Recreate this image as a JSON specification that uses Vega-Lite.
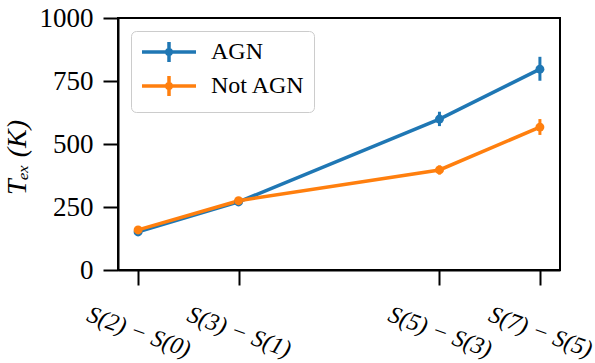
{
  "$schema": "https://vega.github.io/schema/vega-lite/v6.json",
  "autosize": {"type": "none"},
  "padding": {"left": 118, "top": 18, "right": 35, "bottom": 93},
  "width": 442,
  "height": 252,
  "background": "white",
  "config": {
    "font": "Liberation Serif",
    "view": {"stroke": "black", "strokeWidth": 2},
    "axis": {"grid": false, "domainColor": "black", "domainWidth": 2, "tickColor": "black", "tickWidth": 2, "tickSize": 15, "labelColor": "black", "labelFont": "Liberation Serif", "titleColor": "black", "titleFont": "Liberation Serif"}
  },
  "data": {
    "values": [
      {"group": "AGN", "pos": 0, "transition": "S(2) − S(0)", "T": 151, "lo": 143, "hi": 159},
      {"group": "AGN", "pos": 1, "transition": "S(3) − S(1)", "T": 270, "lo": 262, "hi": 278},
      {"group": "AGN", "pos": 3, "transition": "S(5) − S(3)", "T": 599, "lo": 571, "hi": 628},
      {"group": "AGN", "pos": 4, "transition": "S(7) − S(5)", "T": 797, "lo": 751, "hi": 846},
      {"group": "Not AGN", "pos": 0, "transition": "S(2) − S(0)", "T": 159, "lo": 151, "hi": 167},
      {"group": "Not AGN", "pos": 1, "transition": "S(3) − S(1)", "T": 275, "lo": 267, "hi": 283},
      {"group": "Not AGN", "pos": 3, "transition": "S(5) − S(3)", "T": 397, "lo": 379, "hi": 415},
      {"group": "Not AGN", "pos": 4, "transition": "S(7) − S(5)", "T": 567, "lo": 536, "hi": 599}
    ]
  },
  "encoding": {
    "x": {
      "field": "pos", "type": "quantitative",
      "scale": {"domain": [-0.2, 4.2], "nice": false, "zero": false},
      "axis": {
        "values": [0, 1, 3, 4],
        "title": null,
        "labelExpr": "datum.value == 0 ? 'S(2) − S(0)' : datum.value == 1 ? 'S(3) − S(1)' : datum.value == 3 ? 'S(5) − S(3)' : 'S(7) − S(5)'",
        "labelAngle": 20,
        "labelAlign": "center",
        "labelBaseline": "middle",
        "labelPadding": 47,
        "labelFontSize": 24,
        "labelFontStyle": "italic",
        "labelOverlap": false,
        "labelBound": false,
        "labelFlush": false
      }
    }
  },
  "layer": [
    {
      "mark": {"type": "line", "strokeWidth": 3.5},
      "encoding": {
        "y": {
          "field": "T", "type": "quantitative",
          "scale": {"domain": [0, 1000], "nice": false},
          "axis": {
            "values": [0, 250, 500, 750, 1000],
            "format": "d",
            "title": "Tₑₓ (K)",
            "titleFontSize": 28,
            "titleFontWeight": "normal",
            "titleFontStyle": "italic",
            "titleAngle": -90,
            "titleX": -101,
            "titleY": 139,
            "titleBaseline": "middle",
            "titleAlign": "center",
            "labelFontSize": 27,
            "labelPadding": 10
          }
        },
        "stroke": {
          "field": "group", "type": "nominal",
          "scale": {"domain": ["AGN", "Not AGN"], "range": ["#1f77b4", "#ff7f0e"]},
          "legend": {
            "title": null,
            "orient": "none",
            "legendX": 13,
            "legendY": 13,
            "padding": 9,
            "symbolType": "M-2.7,0H2.7M0,-1V1M-0.22,0A0.22,0.22 0 1,0 0.22,0A0.22,0.22 0 1,0 -0.22,0",
            "symbolSize": 400,
            "symbolStrokeWidth": 3.5,
            "symbolOffset": 17,
            "labelFontSize": 24,
            "labelFont": "Liberation Serif",
            "labelColor": "black",
            "labelOffset": 30,
            "rowPadding": 0,
            "strokeColor": "#cccccc",
            "fillColor": "rgba(255,255,255,0.8)",
            "cornerRadius": 5
          }
        }
      }
    },
    {
      "mark": {"type": "rule", "strokeWidth": 3},
      "encoding": {
        "y": {"field": "lo", "type": "quantitative"},
        "y2": {"field": "hi"},
        "stroke": {"field": "group", "type": "nominal"}
      }
    },
    {
      "mark": {"type": "point", "filled": true, "opacity": 1, "size": 80, "shape": "circle"},
      "encoding": {
        "y": {"field": "T", "type": "quantitative"},
        "fill": {"field": "group", "type": "nominal", "scale": {"domain": ["AGN", "Not AGN"], "range": ["#1f77b4", "#ff7f0e"]}, "legend": null}
      }
    }
  ]
}
